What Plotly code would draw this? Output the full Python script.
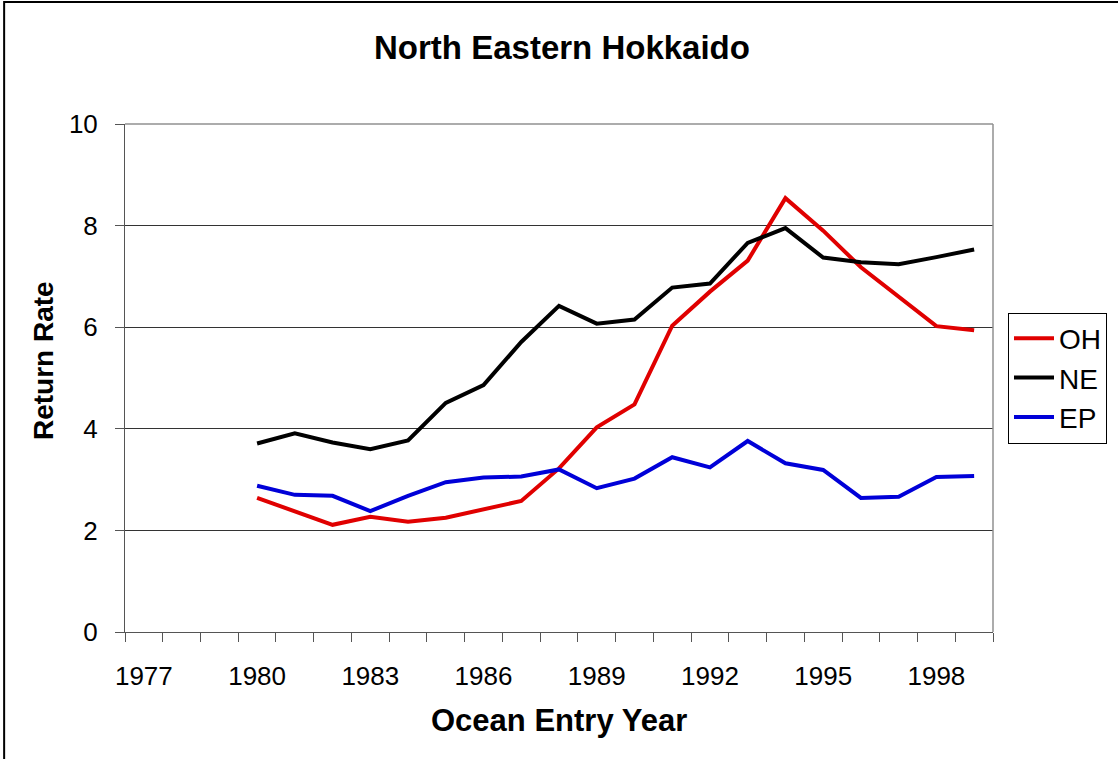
import plotly.graph_objects as go

# ── Datos ─────────────────────────────────────────────────────────────────────
years = list(range(1980, 2000))
oh = [2.64, 2.37, 2.11, 2.27, 2.17, 2.25, 2.42, 2.58, 3.22, 4.03,
      4.48, 6.03, 6.70, 7.31, 8.54, 7.90, 7.18, 6.60, 6.02, 5.94]
ne = [3.71, 3.91, 3.73, 3.60, 3.77, 4.51, 4.86, 5.71, 6.42, 6.07,
      6.15, 6.78, 6.86, 7.66, 7.95, 7.37, 7.28, 7.24, 7.38, 7.53]
ep = [2.88, 2.70, 2.68, 2.38, 2.68, 2.95, 3.04, 3.06, 3.20, 2.83,
      3.02, 3.44, 3.24, 3.76, 3.32, 3.19, 2.64, 2.66, 3.05, 3.07]
tick_years = list(range(1977, 1999, 3))
y_ticks = [0, 2, 4, 6, 8, 10]

series = [("OH", oh, "#E00000"), ("NE", ne, "#000000"), ("EP", ep, "#0000D8")]

# ── Geometría (px) ────────────────────────────────────────────────────────────
W, H = 1118, 759
L, R, T, B = 125, 124, 124, 127
pw, ph = W - L - R, H - T - B


def px_x(x):
    return (x - L) / pw


def px_y(y):
    return (H - B - y) / ph


FONT = "Liberation Sans, Arial, sans-serif"

fig = go.Figure()
for name, vals, color in series:
    fig.add_trace(go.Scatter(
        x=years, y=vals, name=name, mode='lines',
        line=dict(color=color, width=4),
    ))

fig.update_layout(
    width=W, height=H,
    paper_bgcolor='white', plot_bgcolor='white',
    font=dict(family=FONT, size=26, color='black'),
    margin=dict(l=L, r=R, t=T, b=B),
    title=dict(
        text='<b>North Eastern Hokkaido</b>', font=dict(size=33),
        x=562 / W, xanchor='center', xref='container',
        y=1 - 47 / H, yanchor='middle', yref='container',
    ),
    legend=dict(
        x=px_x(1008), xanchor='left', y=px_y(378), yanchor='middle',
        bordercolor='black', borderwidth=1, bgcolor='white',
        font=dict(size=28), tracegroupgap=0, itemwidth=40,
    ),
    xaxis=dict(
        range=[1976.5, 1999.5], tickmode='array', tickvals=tick_years,
        ticks='', showgrid=False, zeroline=False,
        showline=True, linecolor='#555555', linewidth=1, mirror=False,
        ticklabelstandoff=21,
        minor=dict(tickmode='linear', tick0=1976.5, dtick=1,
                   ticks='outside', ticklen=9, tickcolor='#555555', showgrid=False),
    ),
    yaxis=dict(
        range=[0, 10], tickvals=y_ticks, ticks='outside', ticklen=9,
        tickcolor='#555555', showgrid=True, gridcolor='#333333', gridwidth=1,
        zeroline=False, showline=True, linecolor='#555555', linewidth=1,
        ticklabelstandoff=12,
    ),
    showlegend=True,
)

# Borde del área de trazado (arriba y derecha) y marco del gráfico
fig.add_shape(type='line', xref='paper', yref='paper', x0=0, x1=1, y0=1, y1=1,
              line=dict(color='#909090', width=1.5))
fig.add_shape(type='line', xref='paper', yref='paper', x0=1, x1=1, y0=0, y1=1,
              line=dict(color='#909090', width=1.5))
fig.add_shape(type='rect', xref='paper', yref='paper',
              x0=px_x(4), x1=px_x(1130), y0=px_y(770), y1=px_y(2),
              line=dict(color='black', width=2))

# Títulos de ejes
fig.add_annotation(text='<b>Return Rate</b>', textangle=-90, showarrow=False,
                   xref='paper', yref='paper', x=px_x(43), y=px_y(361),
                   xanchor='center', yanchor='middle', font=dict(size=28))
fig.add_annotation(text='<b>Ocean Entry Year</b>', showarrow=False,
                   xref='paper', yref='paper', x=px_x(560), y=px_y(720),
                   xanchor='center', yanchor='middle', font=dict(size=31))

# Quitar el margen del body para que el gráfico ocupe la ventana
fig.write_html("out.html", config={'displayModeBar': False},
               post_script="document.body.style.margin='0';")
